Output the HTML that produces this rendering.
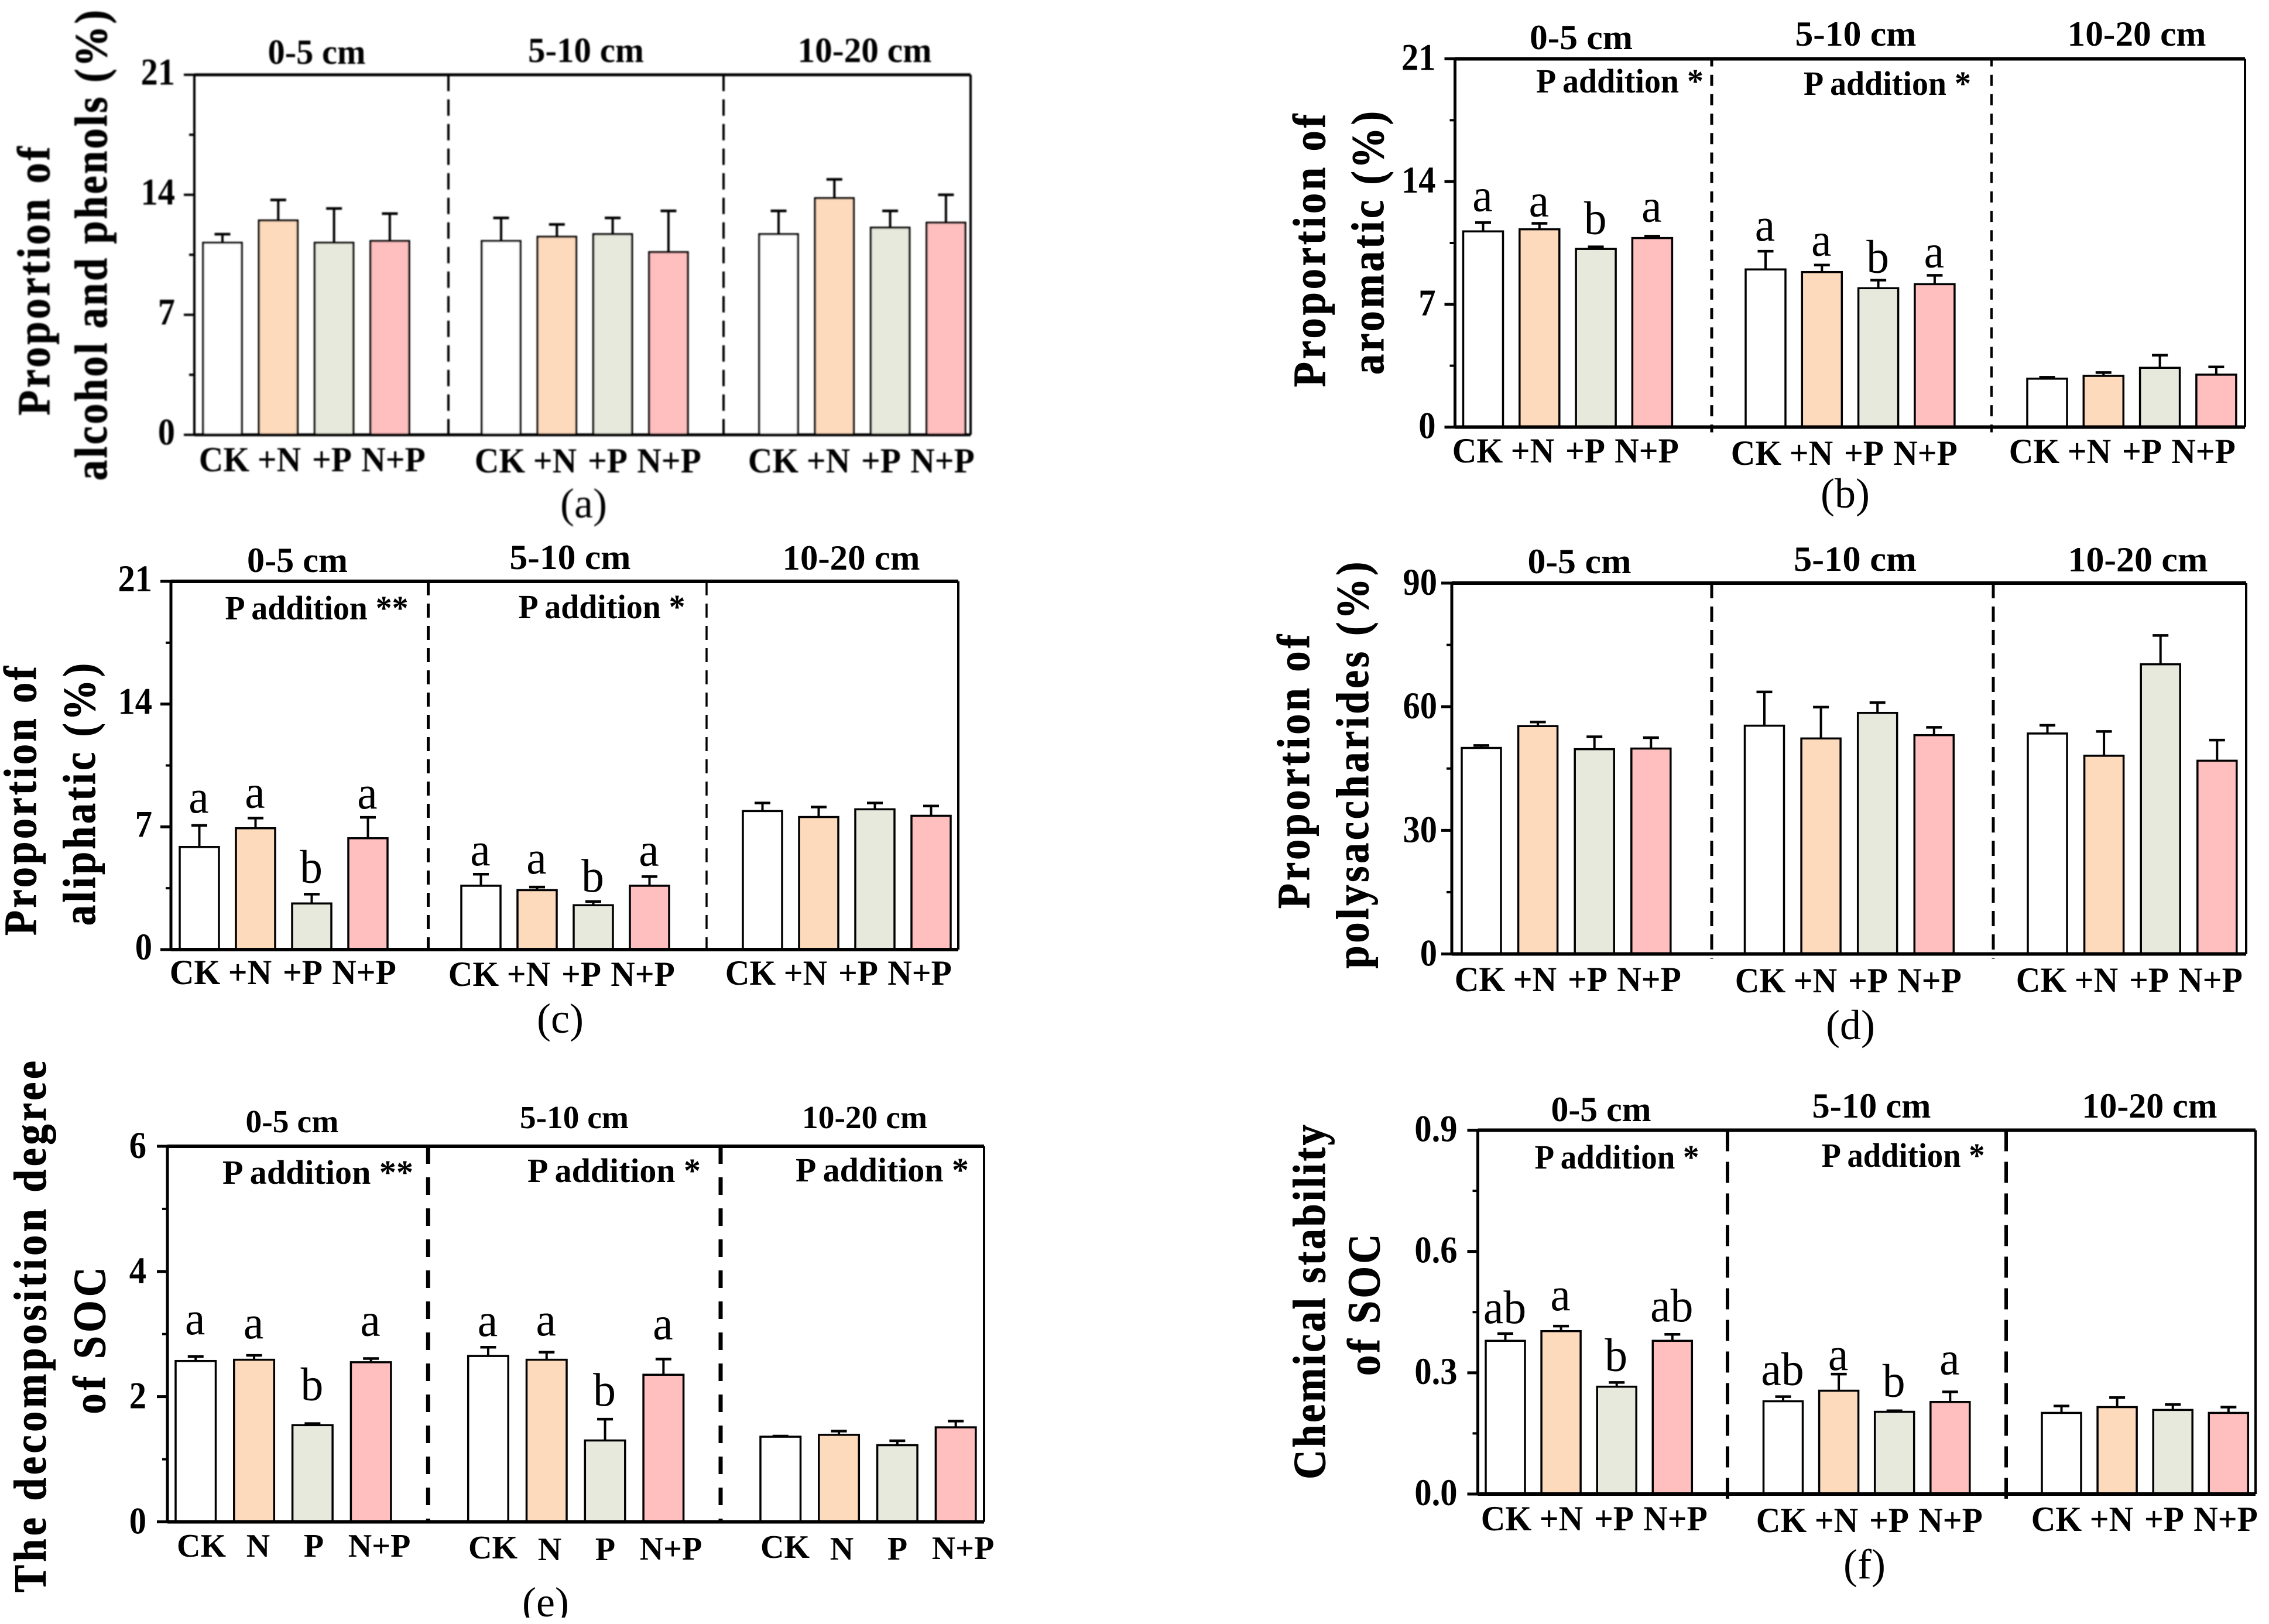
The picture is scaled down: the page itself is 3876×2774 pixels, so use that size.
<!DOCTYPE html>
<html lang="en">
<head>
<meta charset="utf-8">
<title>Soil organic carbon functional groups under N and P addition</title>
<style>
html,body{margin:0;padding:0;background:#fff;}
svg{display:block;}
text{font-family:"Liberation Serif",serif;fill:#000;}
.title{font-weight:bold;font-size:78px;text-anchor:middle;stroke:#000;stroke-width:1px;}
.depth{font-weight:bold;font-size:60px;text-anchor:middle;}
.padd{font-weight:bold;font-size:58px;text-anchor:middle;}
.fig{font-size:72px;text-anchor:middle;}
</style>
</head>
<body>
<svg id="figure" xmlns="http://www.w3.org/2000/svg" width="3876" height="2774" viewBox="0 0 3876 2774">
<defs><filter id="soft" x="-5%" y="-5%" width="110%" height="110%"><feGaussianBlur stdDeviation="1.1"/></filter></defs>
<rect width="3876" height="2774" fill="#fff"/>

<g id="panel-a" filter="url(#soft)">
  <text class="title" transform="translate(84 480) rotate(-90) scale(.9 1)" textLength="510" lengthAdjust="spacing">Proportion of</text>
  <text class="title" transform="translate(182 419) rotate(-90) scale(.9 1)" textLength="893" lengthAdjust="spacing">alcohol and phenols (%)</text>
  <text class="depth" x="541" y="109" textLength="167" lengthAdjust="spacingAndGlyphs">0-5 cm</text>
  <text class="depth" x="1001" y="106" textLength="198" lengthAdjust="spacingAndGlyphs">5-10 cm</text>
  <text class="depth" x="1477" y="106" textLength="229" lengthAdjust="spacingAndGlyphs">10-20 cm</text>
  <text class="fig" x="997" y="884">(a)</text>
</g>

<g id="panel-b">
  <text class="title" transform="translate(2263 428) rotate(-90) scale(.9 1)" textLength="518" lengthAdjust="spacing">Proportion of</text>
  <text class="title" transform="translate(2363 415) rotate(-90) scale(.9 1)" textLength="500" lengthAdjust="spacing">aromatic (%)</text>
  <text class="depth" x="2701" y="84" textLength="176" lengthAdjust="spacingAndGlyphs">0-5 cm</text>
  <text class="depth" x="3170" y="78" textLength="207" lengthAdjust="spacingAndGlyphs">5-10 cm</text>
  <text class="depth" x="3650" y="78" textLength="237" lengthAdjust="spacingAndGlyphs">10-20 cm</text>
  <text class="padd" x="2767" y="158" textLength="286" lengthAdjust="spacingAndGlyphs">P addition *</text>
  <text class="padd" x="3224" y="162" textLength="286" lengthAdjust="spacingAndGlyphs">P addition *</text>
  <text class="fig" x="3152" y="867">(b)</text>
</g>

<g id="panel-c">
  <text class="title" transform="translate(61 1368) rotate(-90) scale(.9 1)" textLength="511" lengthAdjust="spacing">Proportion of</text>
  <text class="title" transform="translate(162 1357) rotate(-90) scale(.9 1)" textLength="498" lengthAdjust="spacing">aliphatic (%)</text>
  <text class="depth" x="508" y="977" textLength="172" lengthAdjust="spacingAndGlyphs">0-5 cm</text>
  <text class="depth" x="974" y="972" textLength="207" lengthAdjust="spacingAndGlyphs">5-10 cm</text>
  <text class="depth" x="1454" y="973" textLength="235" lengthAdjust="spacingAndGlyphs">10-20 cm</text>
  <text class="padd" x="541" y="1058" textLength="313" lengthAdjust="spacingAndGlyphs">P addition **</text>
  <text class="padd" x="1028" y="1056" textLength="285" lengthAdjust="spacingAndGlyphs">P addition *</text>
  <text class="fig" x="957" y="1764">(c)</text>
</g>

<g id="panel-d">
  <text class="title" transform="translate(2236 1318) rotate(-90) scale(.9 1)" textLength="520" lengthAdjust="spacing">Proportion of</text>
  <text class="title" transform="translate(2337 1307) rotate(-90) scale(.9 1)" textLength="772" lengthAdjust="spacing">polysaccharides (%)</text>
  <text class="depth" x="2698" y="979" textLength="177" lengthAdjust="spacingAndGlyphs">0-5 cm</text>
  <text class="depth" x="3169" y="975" textLength="210" lengthAdjust="spacingAndGlyphs">5-10 cm</text>
  <text class="depth" x="3652" y="976" textLength="239" lengthAdjust="spacingAndGlyphs">10-20 cm</text>
  <text class="fig" x="3161" y="1775">(d)</text>
</g>

<g id="panel-e">
  <text class="title" transform="translate(78 2266) rotate(-90) scale(.9 1)" textLength="1009" lengthAdjust="spacing">The decomposition degree</text>
  <text class="title" transform="translate(179 2290) rotate(-90) scale(.9 1)" textLength="279" lengthAdjust="spacing">of SOC</text>
  <text class="depth" style="font-size:55px" x="499" y="1934" textLength="159" lengthAdjust="spacingAndGlyphs">0-5 cm</text>
  <text class="depth" style="font-size:55px" x="981" y="1927" textLength="186" lengthAdjust="spacingAndGlyphs">5-10 cm</text>
  <text class="depth" style="font-size:55px" x="1477" y="1927" textLength="214" lengthAdjust="spacingAndGlyphs">10-20 cm</text>
  <text class="padd" x="543" y="2022" textLength="326" lengthAdjust="spacingAndGlyphs">P addition **</text>
  <text class="padd" x="1049" y="2019" textLength="296" lengthAdjust="spacingAndGlyphs">P addition *</text>
  <text class="padd" x="1507" y="2018" textLength="296" lengthAdjust="spacingAndGlyphs">P addition *</text>
  <text class="fig" x="932" y="2761">(e)</text>
</g>

<g id="panel-f">
  <text class="title" transform="translate(2263 2224) rotate(-90) scale(.9 1)" textLength="673" lengthAdjust="spacing">Chemical stability</text>
  <text class="title" transform="translate(2356 2229) rotate(-90) scale(.9 1)" textLength="269" lengthAdjust="spacing">of SOC</text>
  <text class="depth" x="2735" y="1915" textLength="171" lengthAdjust="spacingAndGlyphs">0-5 cm</text>
  <text class="depth" x="3197" y="1909" textLength="203" lengthAdjust="spacingAndGlyphs">5-10 cm</text>
  <text class="depth" x="3672" y="1909" textLength="231" lengthAdjust="spacingAndGlyphs">10-20 cm</text>
  <text class="padd" x="2762" y="1996" textLength="281" lengthAdjust="spacingAndGlyphs">P addition *</text>
  <text class="padd" x="3251" y="1993" textLength="279" lengthAdjust="spacingAndGlyphs">P addition *</text>
  <text class="fig" x="3185" y="2696">(f)</text>
</g>
<rect x="0" y="2763" width="3876" height="11" fill="#fff"/>
</svg>

<script>
// Categories
const categoriesPlus = ['CK', '+N', '+P', 'N+P'];
const categoriesPlain = ['CK', 'N', 'P', 'N+P'];

// Panel a: alcohol and phenols (%)
const alcoholTicks = [0, 7, 14, 21];
const alcoholMinorTicks = [3.5, 10.5, 17.5];
const alcoholTickLabels = ['0', '7', '14', '21'];
const alcoholMeans = [[11.2, 12.5, 11.2, 11.3], [11.3, 11.55, 11.7, 10.65], [11.7, 13.8, 12.08, 12.37]];
const alcoholErrors = [[0.5, 1.2, 2.0, 1.6], [1.35, 0.72, 0.95, 2.41], [1.36, 1.1, 0.98, 1.63]];
const alcoholLetters = [['', '', '', ''], ['', '', '', ''], ['', '', '', '']];

// Panel b: aromatic (%)
const aromaticTicks = [0, 7, 14, 21];
const aromaticMinorTicks = [3.5, 10.5, 17.5];
const aromaticTickLabels = ['0', '7', '14', '21'];
const aromaticMeans = [[11.16, 11.28, 10.16, 10.78], [8.99, 8.84, 7.92, 8.15], [2.76, 2.92, 3.38, 2.99]];
const aromaticErrors = [[0.5, 0.34, 0.12, 0.11], [1.04, 0.4, 0.46, 0.5], [0.08, 0.19, 0.72, 0.44]];
const aromaticLetters = [['a', 'a', 'b', 'a'], ['a', 'a', 'b', 'a'], ['', '', '', '']];

// Panel c: aliphatic (%)
const aliphaticTicks = [0, 7, 14, 21];
const aliphaticMinorTicks = [3.5, 10.5, 17.5];
const aliphaticTickLabels = ['0', '7', '14', '21'];
const aliphaticMeans = [[5.85, 6.92, 2.63, 6.35], [3.64, 3.39, 2.53, 3.64], [7.9, 7.56, 8.0, 7.63]];
const aliphaticErrors = [[1.23, 0.58, 0.53, 1.19], [0.66, 0.18, 0.21, 0.52], [0.46, 0.57, 0.36, 0.56]];
const aliphaticLetters = [['a', 'a', 'b', 'a'], ['a', 'a', 'b', 'a'], ['', '', '', '']];

// Panel d: polysaccharides (%)
const polyTicks = [0, 30, 60, 90];
const polyMinorTicks = [15, 45, 75];
const polyTickLabels = ['0', '30', '60', '90'];
const polyMeans = [[50.0, 55.3, 49.7, 49.85], [55.4, 52.3, 58.5, 53.1], [53.5, 48.1, 70.3, 46.9]];
const polyErrors = [[0.6, 1.0, 3.0, 2.65], [8.2, 7.6, 2.5, 1.9], [2.0, 5.9, 7.0, 5.0]];
const polyLetters = [['', '', '', ''], ['', '', '', ''], ['', '', '', '']];

// Panel e: decomposition degree of SOC
const decompTicks = [0, 2, 4, 6];
const decompMinorTicks = [1, 3, 5];
const decompTickLabels = ['0', '2', '4', '6'];
const decompMeans = [[2.57, 2.59, 1.545, 2.55], [2.65, 2.59, 1.30, 2.35], [1.36, 1.39, 1.225, 1.51]];
const decompErrors = [[0.07, 0.07, 0.025, 0.06], [0.14, 0.12, 0.34, 0.25], [0.01, 0.06, 0.07, 0.10]];
const decompLetters = [['a', 'a', 'b', 'a'], ['a', 'a', 'b', 'a'], ['', '', '', '']];

// Panel f: chemical stability of SOC
const stabilityTicks = [0, 0.3, 0.6, 0.9];
const stabilityMinorTicks = [0.15, 0.45, 0.75];
const stabilityTickLabels = ['0.0', '0.3', '0.6', '0.9'];
const stabilityMeans = [[0.379, 0.403, 0.2655, 0.379], [0.2295, 0.2556, 0.2034, 0.2277], [0.2007, 0.215, 0.208, 0.2007]];
const stabilityErrors = [[0.018, 0.0125, 0.0105, 0.016], [0.0115, 0.041, 0.0026, 0.025], [0.017, 0.0235, 0.0134, 0.0143]];
const stabilityLetters = [['ab', 'a', 'b', 'ab'], ['ab', 'a', 'b', 'a'], ['', '', '', '']];

const barFills = ['#ffffff', '#fedabc', '#e6e9dc', '#ffbfbf'];
const NS = 'http://www.w3.org/2000/svg';

function mk(parent, tag, attrs, txt) {
  const node = document.createElementNS(NS, tag);
  for (const k in attrs) node.setAttribute(k, attrs[k]);
  if (txt !== undefined) node.textContent = txt;
  parent.appendChild(node);
  return node;
}

function squeeze(textNode, factor) {
  const natural = textNode.getComputedTextLength();
  textNode.setAttribute('textLength', natural * factor);
  textNode.setAttribute('lengthAdjust', 'spacingAndGlyphs');
}

function drawPanel(c) {
  const root = document.getElementById('panel-' + c.id);
  const yScale = v => c.yB - (v / c.max) * (c.yB - c.yT);
  const xBand = (g, i) => c.groupX[g] + i * c.step;
  const axisW = c.axisW || 5;

  c.means.forEach((group, g) => {
    group.forEach((val, i) => {
      const bx = xBand(g, i);
      const cx = bx + c.barW / 2;
      const top = yScale(val);
      const errTop = yScale(val + c.errors[g][i]);

      const errLine = mk(root, 'line', {x1: cx, x2: cx, y1: top, y2: errTop, stroke: '#000', 'stroke-width': 4});
      
      
      const errCap = mk(root, 'line', {x1: cx - 13.5, x2: cx + 13.5, y1: errTop, y2: errTop, stroke: '#000', 'stroke-width': 4.5});
      
      

      const bar = mk(root, 'rect', {x: bx, y: top, width: c.barW, height: c.yB - top, fill: barFills[i], stroke: '#000', 'stroke-width': 3.5});
      
      

      if (c.letters[g][i]) {
        const sig = mk(root, 'text', {x: cx - 1, y: errTop - c.lifts[g][i], 'text-anchor': 'middle', 'font-size': 80}, c.letters[g][i]);
        
        
        squeeze(sig, 0.97);
      }

      const catShift = c.catDy ? c.catDy[g][i] : 0;
      const catLabel = mk(root, 'text', {x: c.catX[g] + c.catOff[i], y: c.catY[g] + catShift, 'text-anchor': 'middle', 'font-size': c.catSize || 60, 'font-weight': 'bold'}, c.cats[i]);
      
      
      if (!c.catSize) squeeze(catLabel, 0.96);
    });
  });

  c.dividers.forEach((dx, k) => {
    const div = mk(root, 'line', {x1: dx, x2: dx, y1: c.yT, y2: c.yB + c.dashTail, stroke: '#000', 'stroke-width': c.dashW[k], 'stroke-dasharray': c.dash, 'stroke-dashoffset': c.dashOffset || 0});
    
    
  });

  const frameTop = mk(root, 'line', {x1: c.x0, x2: c.x1, y1: c.yT, y2: c.yT, stroke: '#000', 'stroke-width': axisW + 1});
  
  
  const frameRight = mk(root, 'line', {x1: c.x1, x2: c.x1, y1: c.yT, y2: c.yB, stroke: '#000', 'stroke-width': 4});
  
  
  const yAxis = mk(root, 'line', {x1: c.x0, x2: c.x0, y1: c.yT, y2: c.yB, stroke: '#000', 'stroke-width': axisW});
  
  
  const xAxis = mk(root, 'line', {x1: c.x0, x2: c.x1, y1: c.yB, y2: c.yB, stroke: '#000', 'stroke-width': axisW + 1});
  
  

  c.ticks.forEach((t, i) => {
    const ty = yScale(t);
    const tick = mk(root, 'line', {x1: c.x0 - 18, x2: c.x0, y1: ty, y2: ty, stroke: '#000', 'stroke-width': axisW});
    
    
    const lab = mk(root, 'text', {x: c.x0 + c.labDx, y: ty + c.labDy, 'text-anchor': 'end', 'font-size': 65, 'font-weight': 'bold'}, c.tickLabels[i]);
    
    
    squeeze(lab, 0.9);
  });
  c.minor.forEach(t => {
    const ty = yScale(t);
    const mt = mk(root, 'line', {x1: c.x0 - 9, x2: c.x0, y1: ty, y2: ty, stroke: '#000', 'stroke-width': 4});
    
    
  });
}

const offsetsPlus = [0, 94, 184, 289];
const offsetsPlain = [0, 97, 192, 304];
const noLift = [[0, 0, 0, 0], [0, 0, 0, 0], [0, 0, 0, 0]];

drawPanel({id: 'a', x0: 332, x1: 1658, yT: 127.7, yB: 742.7, max: 21,
  ticks: alcoholTicks, minor: alcoholMinorTicks, tickLabels: alcoholTickLabels,
  means: alcoholMeans, errors: alcoholErrors, letters: alcoholLetters, lifts: noLift,
  groupX: [347, 823, 1297], step: 95.3, barW: 66, dividers: [766, 1236], dashW: [4, 4], dash: '28 14', dashTail: 10,
  cats: categoriesPlus, catX: [383, 854, 1321], catOff: offsetsPlus, catY: [805, 807, 807], labDx: -33, labDy: 17, axisW: 4});

drawPanel({id: 'b', x0: 2485.5, x1: 3835, yT: 100.5, yB: 729.5, max: 21,
  ticks: aromaticTicks, minor: aromaticMinorTicks, tickLabels: aromaticTickLabels,
  means: aromaticMeans, errors: aromaticErrors, letters: aromaticLetters,
  lifts: [[20, 12, 22, 25], [18, 16, 13, 14], [0, 0, 0, 0]],
  groupX: [2499.5, 2982, 3463], step: 96.3, barW: 68, dividers: [2924, 3402], dashW: [5, 4], dash: '19 14.2', dashOffset: 6, dashTail: 9,
  cats: categoriesPlus, catX: [2524, 3000, 3475], catOff: offsetsPlus, catY: [790, 794, 791], labDx: -33, labDy: 19});

drawPanel({id: 'c', x0: 292, x1: 1637, yT: 993, yB: 1622, max: 21,
  ticks: aliphaticTicks, minor: aliphaticMinorTicks, tickLabels: aliphaticTickLabels,
  means: aliphaticMeans, errors: aliphaticErrors, letters: aliphaticLetters,
  lifts: [[22, 18, 20, 15], [15, 23, 17, 19], [0, 0, 0, 0]],
  groupX: [307, 788, 1269], step: 96, barW: 67, dividers: [731.5, 1207], dashW: [5, 3.5], dash: '24 14', dashTail: 10,
  cats: categoriesPlus, catX: [333, 809, 1282], catOff: offsetsPlus, catY: [1681, 1684, 1682], labDx: -32, labDy: 17});

drawPanel({id: 'd', x0: 2480, x1: 3837, yT: 996, yB: 1629.5, max: 90,
  ticks: polyTicks, minor: polyMinorTicks, tickLabels: polyTickLabels,
  means: polyMeans, errors: polyErrors, letters: polyLetters, lifts: noLift,
  groupX: [2497, 2980.5, 3464], step: 96.6, barW: 67, dividers: [2924, 3405], dashW: [5, 5], dash: '26 14', dashTail: 8,
  cats: categoriesPlus, catX: [2528, 3007, 3487], catOff: offsetsPlus, catY: [1693, 1695, 1694], labDx: -25, labDy: 20});

drawPanel({id: 'e', x0: 286, x1: 1681, yT: 1958, yB: 2599.5, max: 6,
  ticks: decompTicks, minor: decompMinorTicks, tickLabels: decompTickLabels,
  means: decompMeans, errors: decompErrors, letters: decompLetters,
  lifts: [[38, 29, 40, 39], [19, 29, 23, 34], [0, 0, 0, 0]],
  groupX: [300, 799.7, 1299], step: 99.8, barW: 68.5, dividers: [731.3, 1231], dashW: [7, 7], dash: '30 23', dashTail: 3,
  cats: categoriesPlain, catX: [344, 842, 1341], catOff: offsetsPlain, catY: [2659, 2665, 2664], catDy: [[0, 0, 0, 0], [-3, 0, 0, -1], [-3, 0, 0, -1]], catSize: 56, labDx: -36, labDy: 20});

drawPanel({id: 'f', x0: 2524.5, x1: 3853, yT: 1930.5, yB: 2552, max: 0.9,
  ticks: stabilityTicks, minor: stabilityMinorTicks, tickLabels: stabilityTickLabels,
  means: stabilityMeans, errors: stabilityErrors, letters: stabilityLetters,
  lifts: [[18, 27, 20, 22], [20, 7, 24, 30], [0, 0, 0, 0]],
  groupX: [2538, 3012.5, 3488], step: 95.1, barW: 67, dividers: [2951, 3427], dashW: [6, 6], dash: '36 18', dashTail: 8,
  cats: categoriesPlus, catX: [2573, 3043, 3513], catOff: offsetsPlus, catY: [2614, 2617, 2615], labDx: -35, labDy: 19});
</script>
</body>
</html>
